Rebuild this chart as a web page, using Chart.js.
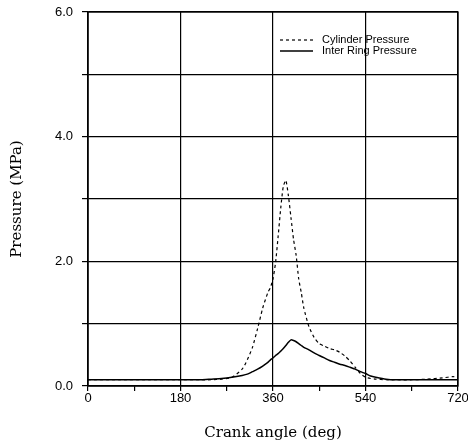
<!DOCTYPE html>
<html>
<head>
<meta charset="utf-8">
<script src="https://cdn.jsdelivr.net/npm/chart.js"></script>
<style>
  html, body { margin: 0; padding: 0; background: #fff; }
  #wrap { width: 468px; height: 447px; }
</style>
</head>
<body>
<div id="wrap"><canvas id="chart" width="468" height="447"></canvas></div>
<script>
const crankAngles = [0, 60, 120, 180, 220, 240, 260, 280, 300, 310, 320, 330, 340, 350, 355, 360, 365, 370, 375, 380, 385, 390, 395, 400, 405, 410, 415, 420, 430, 440, 450, 460, 470, 480, 490, 500, 510, 520, 530, 540, 550, 560, 580, 600, 630, 660, 690, 710, 720];
const cylinderPressure = [0.1, 0.1, 0.1, 0.1, 0.1, 0.1, 0.11, 0.14, 0.27, 0.42, 0.62, 0.92, 1.25, 1.5, 1.58, 1.72, 1.98, 2.4, 2.85, 3.2, 3.3, 3.05, 2.7, 2.35, 2.1, 1.72, 1.5, 1.25, 0.95, 0.78, 0.68, 0.64, 0.6, 0.58, 0.54, 0.48, 0.4, 0.3, 0.2, 0.14, 0.12, 0.11, 0.1, 0.1, 0.1, 0.11, 0.13, 0.15, 0.14];
const interRingPressure = [0.1, 0.1, 0.1, 0.1, 0.1, 0.11, 0.12, 0.14, 0.17, 0.19, 0.23, 0.27, 0.32, 0.38, 0.42, 0.45, 0.49, 0.52, 0.56, 0.6, 0.65, 0.7, 0.74, 0.73, 0.71, 0.68, 0.65, 0.62, 0.58, 0.53, 0.49, 0.45, 0.41, 0.38, 0.35, 0.33, 0.3, 0.27, 0.23, 0.2, 0.16, 0.14, 0.11, 0.1, 0.1, 0.1, 0.1, 0.1, 0.1];
const seriesLabels = ['Cylinder Pressure', 'Inter Ring Pressure'];
const xTickLabels = ['0', '180', '360', '540', '720'];
const yTickLabels = ['0.0', '2.0', '4.0', '6.0'];

const toPoints = vals => crankAngles.map((a, i) => ({ x: a, y: vals[i] }));

// legend drawn inside the plot, top right, like the original
const insideLegend = {
  id: 'insideLegend',
  afterDraw(chart) {
    const ctx = chart.ctx;
    const area = chart.chartArea;
    const x0 = area.left + 192;
    const rows = [area.top + 28, area.top + 39];
    ctx.save();
    ctx.strokeStyle = '#000';
    ctx.fillStyle = '#000';
    ctx.font = '11px "Liberation Sans", Arial, sans-serif';
    ctx.textBaseline = 'middle';
    chart.data.datasets.forEach((ds, i) => {
      ctx.lineWidth = ds.borderWidth;
      ctx.setLineDash(ds.borderDash || []);
      ctx.beginPath();
      ctx.moveTo(x0, rows[i]);
      ctx.lineTo(x0 + 33, rows[i]);
      ctx.stroke();
      ctx.setLineDash([]);
      ctx.fillText(ds.label, x0 + 42, rows[i]);
    });
    ctx.restore();
  }
};

new Chart(document.getElementById('chart'), {
  type: 'line',
  data: {
    datasets: [{
      label: seriesLabels[0],
      data: toPoints(cylinderPressure),
      borderColor: '#000',
      borderWidth: 1.2,
      borderDash: [3, 3],
      pointRadius: 0,
      tension: 0.2
    }, {
      label: seriesLabels[1],
      data: toPoints(interRingPressure),
      borderColor: '#000',
      borderWidth: 1.5,
      pointRadius: 0,
      tension: 0.2
    }]
  },
  options: {
    responsive: false,
    animation: false,
    layout: { padding: { top: 12, right: 10, left: 0, bottom: 0 } },
    plugins: {
      legend: { display: false },
      tooltip: { enabled: false }
    },
    scales: {
      x: {
        type: 'linear',
        min: 0,
        max: 720,
        afterFit: s => { s.height = 61; s.paddingLeft = 0; s.paddingRight = 0; },
        border: { color: '#000', width: 1.3 },
        grid: {
          color: c => (c.tick && c.tick.value % 180 === 0) ? '#000' : 'rgba(0,0,0,0)',
          lineWidth: 1.2,
          tickColor: '#000',
          tickLength: 5
        },
        ticks: {
          stepSize: 90,
          padding: 0,
          color: '#000',
          maxRotation: 0,
          font: { family: '"Liberation Sans", Arial, sans-serif', size: 13 },
          callback: v => (v % 180 === 0) ? xTickLabels[v / 180] : ''
        },
        title: {
          display: true,
          text: 'Crank angle (deg)',
          color: '#000',
          font: { family: '"DejaVu Serif", "Liberation Serif", serif', size: 15 },
          padding: { top: 0, bottom: 5 }
        }
      },
      y: {
        min: 0,
        max: 6,
        afterFit: s => { s.width = 88; s.paddingTop = 0; s.paddingBottom = 0; },
        border: { color: '#000', width: 1.3 },
        grid: {
          color: '#000',
          lineWidth: 1.2,
          tickColor: '#000',
          tickLength: 6
        },
        ticks: {
          stepSize: 1,
          padding: 9,
          color: '#000',
          font: { family: '"Liberation Sans", Arial, sans-serif', size: 13 },
          callback: v => (v % 2 === 0) ? yTickLabels[v / 2] : ''
        },
        title: {
          display: true,
          text: 'Pressure (MPa)',
          color: '#000',
          font: { family: '"DejaVu Serif", "Liberation Serif", serif', size: 15 },
          padding: { top: 8, bottom: 0 }
        }
      }
    }
  },
  plugins: [insideLegend, {
    id: 'frame',
    afterDraw(chart) {
      const { ctx, chartArea: a } = chart;
      ctx.save();
      ctx.strokeStyle = '#000';
      ctx.lineWidth = 1.3;
      ctx.strokeRect(a.left, a.top, a.right - a.left, a.bottom - a.top);
      ctx.restore();
    }
  }]
});
</script>
</body>
</html>
